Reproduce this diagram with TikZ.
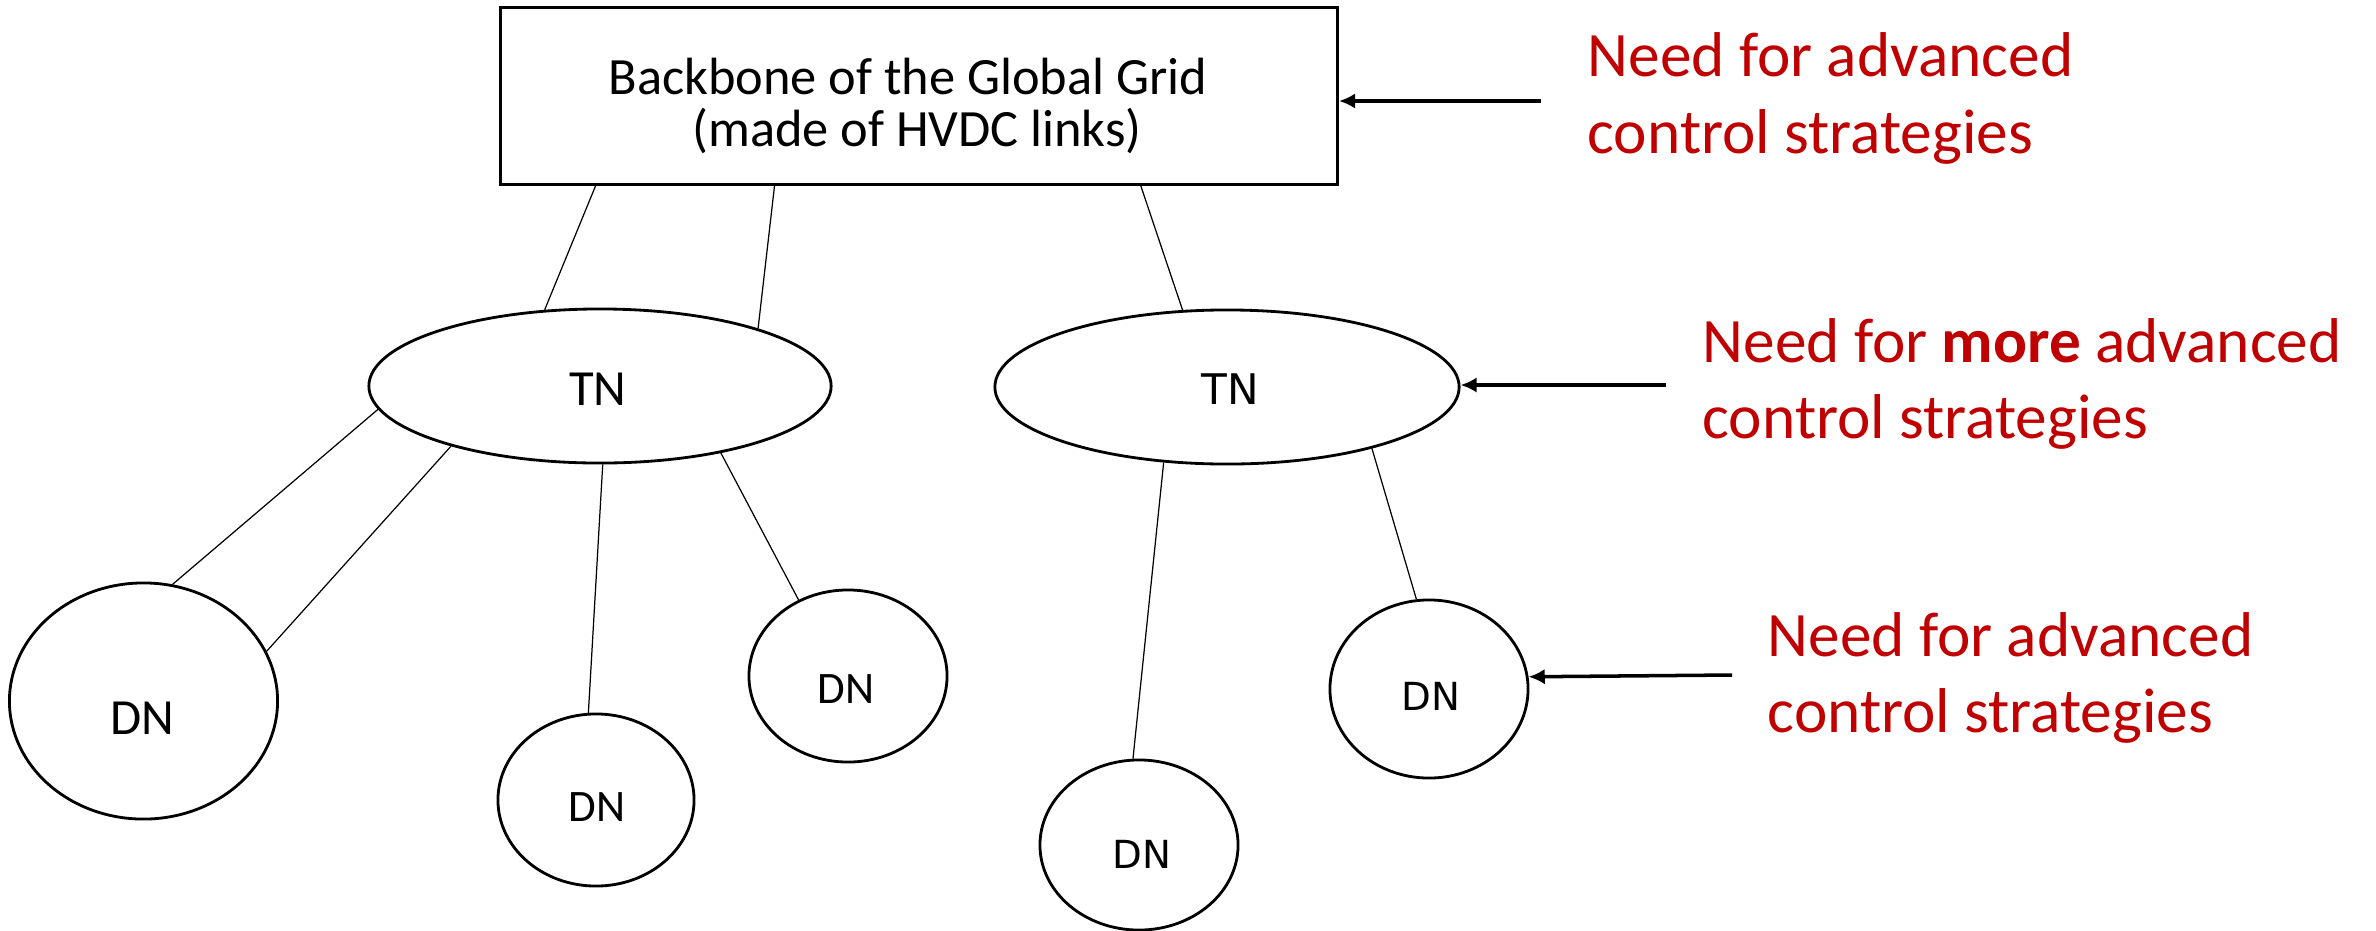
\documentclass[tikz,border=0pt]{standalone}
\usepackage{fontspec}
\setmainfont{Carlito}
\newfontfamily\dejavu{DejaVu Sans}
\usetikzlibrary{shapes.geometric,arrows.meta,calc}
\definecolor{needred}{HTML}{C00000}
\begin{document}
\begin{tikzpicture}[x=0.01cm,y=-0.01cm,
  net/.style={ellipse,draw,line width=0.8pt,inner sep=0pt},
  link/.style={line width=0.35pt},
  pointer/.style={line width=1pt,-{Latex[length=4.6pt,width=4.4pt]}},
  needtxt/.style={text=needred,anchor=base west,inner sep=0pt,font=\fontsize{18}{22}\selectfont},
  lbl/.style={inner sep=0pt}]
\useasboundingbox (0,0) rectangle (2376,930);

% backbone box
\node[draw,line width=0.8pt,rectangle,inner sep=0pt,minimum width=8.367cm,minimum height=1.77cm] (box) at (919,95.8) {};
\node[lbl,anchor=base,font=\fontsize{14.9}{14.9}\selectfont] (bb1) at (908,94.3) {Backbone of the Global Grid};
\node[lbl,anchor=base,font=\fontsize{14.9}{14.9}\selectfont] (bb2) at (917,146) {(made of HVDC links)};

% transmission networks
\node[net,minimum width=4.62cm,minimum height=1.54cm] (tnL) at (600,386) {};
\node[net,minimum width=4.64cm,minimum height=1.54cm] (tnR) at (1227,387) {};
\node[lbl,font=\fontsize{14.4}{16}\selectfont] (tnLt) at (598,389.5) {TN};
\node[lbl,font=\dejavu\fontsize{12}{14}\selectfont] (tnRt) at (1230,389) {TN};

% distribution networks
\node[net,minimum width=2.68cm,minimum height=2.36cm] (dn1) at (143.5,701) {};
\node[net,minimum width=1.96cm,minimum height=1.72cm] (dn2) at (596,800) {};
\node[net,minimum width=1.98cm,minimum height=1.72cm] (dn3) at (848,676) {};
\node[net,minimum width=1.98cm,minimum height=1.70cm] (dn4) at (1139,845) {};
\node[net,minimum width=1.98cm,minimum height=1.78cm] (dn5) at (1429,689) {};
\node[lbl,font=\fontsize{14.4}{16}\selectfont] (dn1t) at (142.5,718) {DN};
\node[lbl,font=\fontsize{12.8}{15}\selectfont] (dn2t) at (597,807) {DN};
\node[lbl,font=\fontsize{12.8}{15}\selectfont] (dn3t) at (846,689) {DN};
\node[lbl,font=\dejavu\fontsize{11}{13}\selectfont] (dn4t) at (1142,854) {DN};
\node[lbl,font=\dejavu\fontsize{11}{13}\selectfont] (dn5t) at (1431,696) {DN};

% links
\draw[link] ($(box.south west)!0.115!(box.south east)$) -- (tnL.126.6);
\draw[link] ($(box.south west)!0.328!(box.south east)$) -- (tnL.20);
\draw[link] ($(box.south west)!0.764!(box.south east)$) -- (tnR.120.1);
\draw[link] (tnL.186.3) -- (dn1.76.3);
\draw[link] (tnL.202.1) -- (dn1.22.5);
\draw[link] (tnL.272) -- (dn2.95.3);
\draw[link] (tnL.331.2) -- (dn3.123.3);
\draw[link] (tnR.230.4) -- (dn4.94.8);
\draw[link] (tnR.337.4) -- (dn5.98.5);

% annotations
\coordinate (n1) at (1541,101);
\coordinate (n2) at (1666,385);
\coordinate (n3) at (1732,675);
\draw[pointer] (n1) -- (n1 -| box.east);
\draw[pointer] (n2) -- (n2 -| tnR.east);
\draw[pointer] (n3) -- (dn5.7.9);

\node[needtxt] (r1a) at (1587,76.7) {Need for advanced};
\node[needtxt] (r1b) at (1587,153.3) {control strategies};
\node[needtxt] (r2a) at (1702,362.7) {Need for \textbf{more} advanced};
\node[needtxt] (r2b) at (1702,438.3) {control strategies};
\node[needtxt] (r3a) at (1767,656) {Need for advanced};
\node[needtxt] (r3b) at (1767,732) {control strategies};
\end{tikzpicture}
\end{document}
